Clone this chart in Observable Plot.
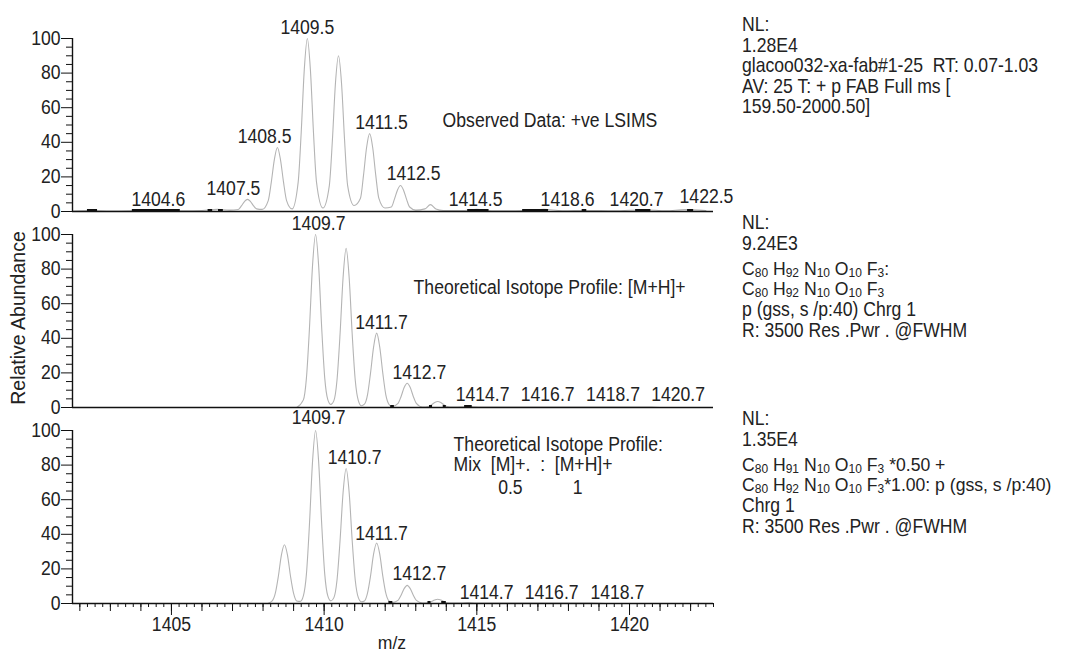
<!DOCTYPE html>
<html><head><meta charset="utf-8">
<script src="https://cdn.jsdelivr.net/npm/d3@7"></script>
<script src="https://cdn.jsdelivr.net/npm/@observablehq/plot@0.6"></script>
<style>
body{margin:0;background:#fff;font-family:"Liberation Sans",Arial,sans-serif;color:#222}
#wrap{position:relative;width:1074px;height:655px;overflow:hidden;background:#fff}
.panel{position:absolute;left:0}
.info{position:absolute;left:742px;font-size:17.6px;line-height:20.5px;white-space:pre;color:#222}
.info > div.l{transform:scaleY(1.1);transform-origin:left center}
.info > div.f{line-height:20px}
.info sub{font-size:12px;vertical-align:-2px;line-height:0}
.gap{height:6px}
#ylab{position:absolute;left:18px;top:318px;transform:translate(-50%,-50%) rotate(-90deg);font-size:19.5px;white-space:nowrap;color:#222}
#xlab{position:absolute;left:392px;top:643px;transform:translate(-50%,-50%);font-size:17.6px;line-height:18px;color:#222}
</style></head><body><div id="wrap"></div>
<script>
// ---------------- data ----------------
// Top panel: observed +ve LSIMS profile
const obsMz = [1401.8,1402.4,1403.0,1403.8,1404.6,1405.4,1406.0,1406.5,1406.9,
  1407.19,1407.29,1407.39,1407.49,1407.59,1407.69,1407.79,1407.97,
  1408.17,1408.27,1408.37,1408.47,1408.57,1408.67,1408.77,1408.95,
  1409.15,1409.25,1409.35,1409.45,1409.55,1409.65,1409.75,1409.96,
  1410.17,1410.27,1410.37,1410.47,1410.57,1410.67,1410.77,1410.98,
  1411.19,1411.29,1411.39,1411.49,1411.59,1411.69,1411.79,1411.99,
  1412.2,1412.3,1412.4,1412.5,1412.6,1412.7,1412.8,1413.0,
  1413.3,1413.48,1413.66,1413.9,1414.5,1415.0,1415.5,1416.5,1417.2,1417.8,
  1418.6,1419.5,1420.5,1421.2,1421.8,1422.5];
const obsAb = [0.3,0.5,0.3,0.5,0.8,0.4,0.6,1.2,0.8,
  1.2,3.2,5.7,7,5.7,3.2,1.5,1.2,
  6.3,17,30,37,30,17,6.3,1.5,
  17,46,82,100,82,46,17,2,
  15,41,74,90,74,41,15,3.5,
  7.7,21,37,45,37,21,7.7,2,
  2.6,7,12.3,15,12.3,7,2.6,0.8,
  1.5,4,1.5,0.6,0.5,1.2,0.4,0.6,1.3,0.4,
  0.6,0.4,1.0,0.4,1.1,0.5];
const obsLabelText = ["1404.6","1407.5","1408.5","1409.5","1411.5","1412.5","1414.5","1418.6","1420.7","1422.5"];
const obsLabelMz   = [1404.57,1407.03,1408.05,1409.45,1411.88,1412.93,1414.96,1417.97,1420.23,1422.52];
const obsLabelAb   = [7,13.3,43,106.4,51,22,7,7,7,8.7];
const obsNoteText = ["Observed Data: +ve LSIMS"];
const obsNoteMz = [1413.88];
const obsNoteAb = [52.6];
const obsNoiseX1 = [1402.25,1403.72,1406.2,1406.54,1414.7,1416.5,1418.45,1420.2,1421.9];
const obsNoiseX2 = [1402.58,1405.29,1406.35,1406.7,1415.4,1417.35,1418.6,1420.7,1422.1];

// Middle panel: theoretical isotope profile [M+H]+
const mhMz = [1409.1,1409.32,1409.42,1409.52,1409.62,1409.72,1409.82,1409.92,1410.02,1410.12,1410.22,
  1410.32,1410.42,1410.52,1410.62,1410.72,1410.82,1410.92,1411.02,1411.12,1411.22,
  1411.32,1411.42,1411.52,1411.62,1411.72,1411.82,1411.92,1412.02,1412.12,1412.22,
  1412.42,1412.52,1412.62,1412.72,1412.82,1412.92,1413.02,1413.22,
  1413.42,1413.52,1413.62,1413.72,1413.82,1413.92,1414.02,1414.22,
  1414.52,1414.72,1414.92,1415.2,1416.72,1418.72,1420.72,1421.0];
const mhAb = [0,4.4,17,46,82,100,82,46,17,4.6,1.8,
  4,15.6,42,75,92,75,42,15.6,4,1,
  1.9,7.3,20,35,43,35,20,7.3,1.9,0.5,
  2.4,6.4,11.5,14,11.5,6.4,2.4,0.3,
  0.6,1.6,2.9,3.5,2.9,1.6,0.6,0.2,
  0.4,0.8,0.4,0.2,0.3,0.2,0.2,0];
const mhLabelText = ["1409.7","1411.7","1412.7","1414.7","1416.7","1418.7","1420.7"];
const mhLabelMz   = [1409.82,1411.88,1413.12,1415.19,1417.32,1419.46,1421.59];
const mhLabelAb   = [106.4,49,20,7.5,7.5,7.5,7.5];
const mhNoteText = ["Theoretical Isotope Profile: [M+H]+"];
const mhNoteMz = [1412.93];
const mhNoteAb = [69];
const mhNoiseX1 = [1412.18,1413.45,1413.9,1414.6];
const mhNoiseX2 = [1412.3,1413.55,1414.0,1414.85];

// Bottom panel: theoretical mix [M]+. : [M+H]+ = 0.5 : 1
const mixMz = [1408.15,1408.3,1408.4,1408.5,1408.6,1408.7,1408.8,1408.9,1409.0,1409.1,1409.22,
  1409.32,1409.42,1409.52,1409.62,1409.72,1409.82,1409.92,1410.02,1410.12,1410.22,
  1410.32,1410.42,1410.52,1410.62,1410.72,1410.82,1410.92,1411.02,1411.12,1411.22,
  1411.32,1411.42,1411.52,1411.62,1411.72,1411.82,1411.92,1412.02,1412.12,1412.22,
  1412.42,1412.52,1412.62,1412.72,1412.82,1412.92,1413.02,1413.22,
  1413.42,1413.52,1413.62,1413.72,1413.82,1413.92,1414.02,1414.22,
  1414.52,1414.72,1414.92,1415.2,1416.72,1418.72,1419.2];
const mixAb = [0,1.5,5.8,15.6,28,34,28,15.6,5.8,1.5,1.2,
  4.4,17,46,82,100,82,46,17,4.4,1.5,
  3.4,13.3,36,64,78,64,36,13.3,3.4,1,
  1.5,6,16,28.7,35,28.7,16,6,1.5,0.5,
  1.8,4.8,8.6,10.5,8.6,4.8,1.8,0.3,
  0.4,1.2,2,2.5,2,1.2,0.4,0.2,
  0.3,0.5,0.3,0.2,0.3,0.2,0];
const mixLabelText = ["1409.7","1410.7","1411.7","1412.7","1414.7","1416.7","1418.7"];
const mixLabelMz   = [1409.82,1411.0,1411.88,1413.12,1415.32,1417.45,1419.6];
const mixLabelAb   = [107.5,84,40.5,17,6,6,6];
const mixNoteText = ["Theoretical Isotope Profile:","Mix\u00a0\u00a0[M]+.\u00a0\u00a0:\u00a0\u00a0[M+H]+","0.5","1"];
const mixNoteMz = [1414.24,1414.24,1416.1,1418.3];
const mixNoteAb = [92,80,67,67];
const mixNoteAnchor = ["start","start","middle","middle"];
const mixNoiseX1 = [1412.12,1413.4,1413.85];
const mixNoiseX2 = [1412.25,1413.5,1414.0];

// Axes
const xDomain = [1401.76, 1422.75];
const yMajor = [0,20,40,60,80,100];
const yMinor = [5,10,15,25,30,35,45,50,55,65,70,75,85,90,95];
const xMajor = [1405,1410,1415,1420];
const xUnit = d3.range(1402, 1423, 1);
const xQuarter = d3.range(1402, 1422.76, 0.25);

// Side information text
const infoTop = ["NL:","1.28E4","glacoo032-xa-fab#1-25  RT: 0.07-1.03","AV: 25 T: + p FAB Full ms [","159.50-2000.50]"];
const infoMidHead = ["NL:","9.24E3"];
const infoMid = ["C80 H92 N10 O10 F3:","C80 H92 N10 O10 F3","p (gss, s /p:40) Chrg 1","R: 3500 Res .Pwr . @FWHM"];
const infoBotHead = ["NL:","1.35E4"];
const infoBot = ["C80 H91 N10 O10 F3 *0.50 +","C80 H92 N10 O10 F3*1.00: p (gss, s /p:40)","Chrg 1","R: 3500 Res .Pwr . @FWHM"];
const yTitle = "Relative Abundance";
const xTitle = "m/z";

// ---------------- drawing ----------------
const FONT = "Liberation Sans, Arial, sans-serif";
const FS = 17.6;
const STRETCH = 1.1;
const PLOT_H = 173;
const wrap = document.getElementById("wrap");

function zipRows(obj) {
  const keys = Object.keys(obj);
  return obj[keys[0]].map((_, i) => Object.fromEntries(keys.map(k => [k, obj[k][i]])));
}

function panel({mz, ab, lt, lmz, lab, nt, nmz, nab, nanchor, nx1, nx2, bottom, top, mt, mb}) {
  const profile = zipRows({mz, ab});
  const labels = zipRows({t: lt, mz: lmz, ab: lab});
  const notes = zipRows({t: nt, mz: nmz, ab: nab, a: nanchor || nt.map(() => "start")});
  const noise = zipRows({x1: nx1, x2: nx2});
  const marks = [
    Plot.line(profile, {x: "mz", y: "ab", curve: "monotone-x", stroke: "#b4b4b4", strokeWidth: 1.1}),
    Plot.ruleY(noise, {x1: "x1", x2: "x2", y: 0, stroke: "#111", strokeWidth: 3, dy: -1}),
    Plot.ruleY([0], {stroke: "#111", strokeWidth: 1.6}),
    Plot.ruleX([xDomain[0]], {y1: 0, y2: 100, stroke: "#111", strokeWidth: 1.4}),
    Plot.axisY({ticks: yMajor, tickSize: 11, tickPadding: 1, fontSize: FS, label: null, tickFormat: d => String(d), stroke: "#111", fill: "#222"}),
    Plot.axisY({ticks: yMinor, tickSize: 6, tickFormat: () => "", label: null, stroke: "#111"}),
    Plot.text(labels, {x: "mz", y: "ab", text: "t", fontSize: FS, fill: "#222"}),
    ...notes.map(n => Plot.text([n], {x: "mz", y: "ab", text: "t", textAnchor: n.a, fontSize: FS, fill: "#222"}))
  ];
  if (bottom) {
    marks.push(
      Plot.axisX({ticks: xMajor, tickSize: 12, tickPadding: 2, fontSize: FS, tickFormat: d3.format("d"), label: null, stroke: "#111", fill: "#222"}),
      Plot.axisX({ticks: xUnit, tickSize: 8, tickFormat: () => "", label: null, stroke: "#111"}),
      Plot.axisX({ticks: xQuarter, tickSize: 4, tickFormat: () => "", label: null, stroke: "#111"})
    );
  }
  const svg = Plot.plot({
    width: 740, height: mt + PLOT_H + mb,
    marginLeft: 72, marginRight: 27, marginTop: mt, marginBottom: mb,
    x: {domain: xDomain, axis: bottom ? undefined : null},
    y: {domain: [0, 100]},
    style: {background: "none", overflow: "visible", fontFamily: FONT, color: "#111"},
    marks
  });
  // the reference lettering is slightly tall; stretch each label vertically about its anchor
  svg.querySelectorAll("text").forEach(t => {
    const tr = t.getAttribute("transform");
    if (tr && tr.includes("translate")) t.setAttribute("transform", tr + ` scale(1,${STRETCH})`);
  });
  svg.classList.add("panel");
  svg.style.position = "absolute";
  svg.style.top = (top - mt) + "px";
  svg.style.left = "0px";
  wrap.appendChild(svg);
}

panel({mz: obsMz, ab: obsAb, lt: obsLabelText, lmz: obsLabelMz, lab: obsLabelAb,
  nt: obsNoteText, nmz: obsNoteMz, nab: obsNoteAb, nx1: obsNoiseX1, nx2: obsNoiseX2,
  bottom: false, top: 38, mt: 30, mb: 4});
panel({mz: mhMz, ab: mhAb, lt: mhLabelText, lmz: mhLabelMz, lab: mhLabelAb,
  nt: mhNoteText, nmz: mhNoteMz, nab: mhNoteAb, nx1: mhNoiseX1, nx2: mhNoiseX2,
  bottom: false, top: 234, mt: 30, mb: 4});
panel({mz: mixMz, ab: mixAb, lt: mixLabelText, lmz: mixLabelMz, lab: mixLabelAb,
  nt: mixNoteText, nmz: mixNoteMz, nab: mixNoteAb, nanchor: mixNoteAnchor, nx1: mixNoiseX1, nx2: mixNoiseX2,
  bottom: true, top: 430, mt: 30, mb: 52});

function fmt(line) {
  const esc = line.replace(/&/g, "&amp;").replace(/</g, "&lt;");
  return esc.replace(/([CHNOF])(\d+)/g, "$1<sub>$2</sub>");
}
function lineDiv(l) {
  const hasSub = /[CHNOF]\d/.test(l);
  return `<div class="${hasSub ? "f" : "l"}">${fmt(l)}</div>`;
}
function infoBlock(head, body, top) {
  const div = document.createElement("div");
  div.className = "info";
  div.style.top = top + "px";
  let html = head.map(lineDiv).join("");
  if (body) html += `<div class="gap"></div>` + body.map(lineDiv).join("");
  div.innerHTML = html;
  wrap.appendChild(div);
}
infoBlock(infoTop, null, 14);
infoBlock(infoMidHead, infoMid, 212);
infoBlock(infoBotHead, infoBot, 408);

const yl = document.createElement("div"); yl.id = "ylab"; yl.textContent = yTitle; wrap.appendChild(yl);
const xl = document.createElement("div"); xl.id = "xlab"; xl.textContent = xTitle; wrap.appendChild(xl);
</script></body></html>
